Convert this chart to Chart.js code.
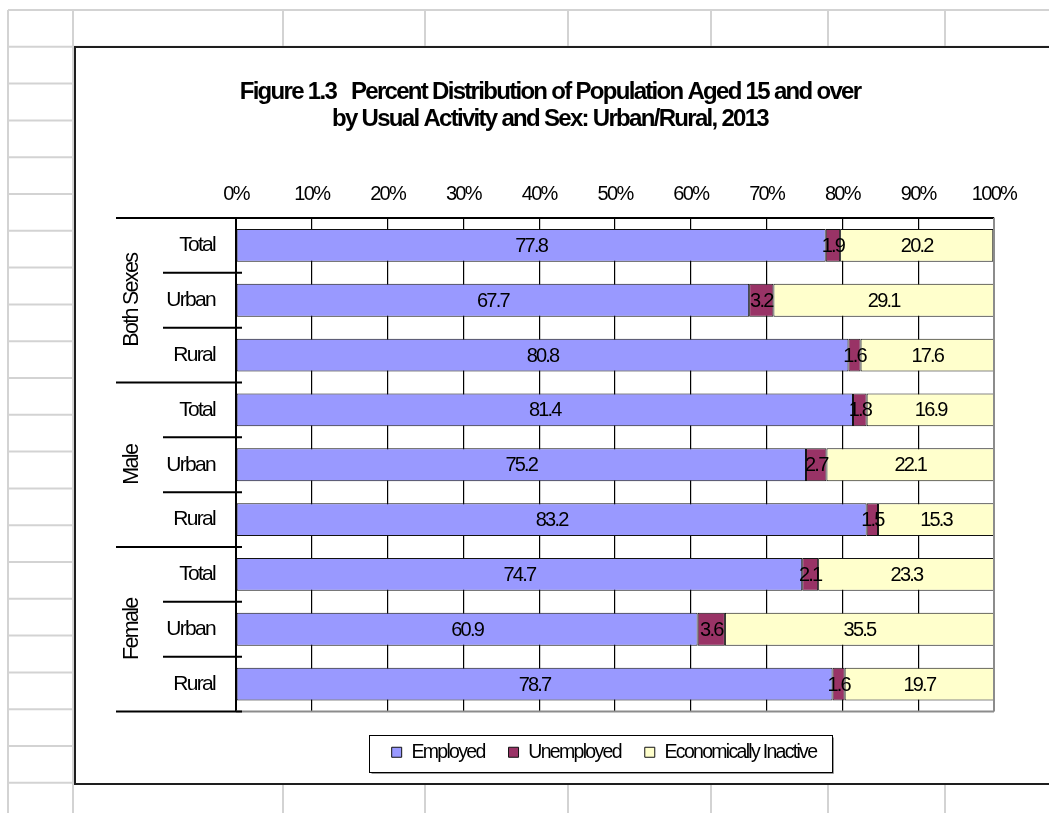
<!DOCTYPE html>
<html>
<head>
<meta charset="utf-8">
<title>Figure 1.3</title>
<script src="https://cdn.jsdelivr.net/npm/chart.js@4.4.1/dist/chart.umd.min.js"></script>
<style>
  html, body { margin: 0; padding: 0; background: #fff; overflow: hidden; }
  canvas { display: block; }
</style>
</head>
<body>
<canvas id="chart" width="1049" height="813"></canvas>
<script>
// Category structure: three groups, each split into Total / Urban / Rural
const groups = ['Both Sexes', 'Male', 'Female'];
const areas = ['Total', 'Urban', 'Rural'];

// Percent of population aged 15+, by usual activity
const employed   = [77.8, 67.7, 80.8, 81.4, 75.2, 83.2, 74.7, 60.9, 78.7];
const unemployed = [1.9, 3.2, 1.6, 1.8, 2.7, 1.5, 2.1, 3.6, 1.6];
const inactive   = [20.2, 29.1, 17.6, 16.9, 22.1, 15.3, 23.3, 35.5, 19.7];

const seriesNames = ['Employed', 'Unemployed', 'Economically Inactive'];
const percentTicks = [0, 10, 20, 30, 40, 50, 60, 70, 80, 90, 100];

const titleLines = [
  'Figure 1.3   Percent Distribution of Population Aged 15 and over',
  'by Usual Activity and Sex: Urban/Rural, 2013'
];

// Arial-metric face, tightened to a narrow look
const FONT = "'Liberation Sans', Arial, sans-serif";
const TIGHT = '-1.7px';
const labels = groups.flatMap(() => areas);

// Worksheet cell grid behind the chart object, plus the chart frame
const sheetCols = [8, 73, 283, 425, 568, 711, 828, 945];
const sheetPlugin = {
  id: 'sheet',
  beforeLayout(chart) { chart.ctx.letterSpacing = TIGHT; },
  beforeDraw(chart) {
    const ctx = chart.ctx, W = chart.width, H = chart.height;
    ctx.letterSpacing = TIGHT;
    ctx.save();
    ctx.fillStyle = '#ffffff';
    ctx.fillRect(0, 0, W, H);
    ctx.strokeStyle = '#d3d3d3';
    ctx.lineWidth = 2;
    ctx.beginPath();
    for (const x of sheetCols) { ctx.moveTo(x, 10); ctx.lineTo(x, H); }
    for (let k = 0; k <= 21; k++) { const y = 10 + k * 36.8; ctx.moveTo(8, y); ctx.lineTo(W, y); }
    ctx.stroke();
    ctx.fillStyle = '#ffffff';
    ctx.fillRect(75, 47, W, 737);
    ctx.strokeStyle = '#1e1e1e';
    ctx.lineWidth = 2;
    ctx.strokeRect(75, 47, W + 40, 737);
    ctx.restore();
  }
};

// Group separators, group titles and plot frame
const categoryPlugin = {
  id: 'categoryFrame',
  afterDraw(chart) {
    const ctx = chart.ctx, a = chart.chartArea, ys = chart.scales.y;
    const n = labels.length;
    ctx.save();
    ctx.strokeStyle = '#8c8c8c';
    ctx.lineWidth = 2;
    ctx.beginPath();
    ctx.moveTo(a.right, a.top); ctx.lineTo(a.right, a.bottom);
    ctx.moveTo(a.left, a.bottom); ctx.lineTo(a.right, a.bottom);
    ctx.stroke();
    ctx.strokeStyle = '#000';
    ctx.lineWidth = 2;
    ctx.beginPath();
    for (let i = 0; i <= n; i++) {
      let y;
      if (i === 0) y = a.top;
      else if (i === n) y = a.bottom;
      else y = (ys.getPixelForValue(i - 1) + ys.getPixelForValue(i)) / 2;
      const x0 = i % areas.length === 0 ? a.left - 120 : a.left - 73;
      ctx.moveTo(x0, y); ctx.lineTo(a.left + 6, y);
    }
    ctx.stroke();
    ctx.fillStyle = '#000';
    ctx.font = '21.5px ' + FONT;
    ctx.letterSpacing = TIGHT;
    ctx.textAlign = 'center';
    ctx.textBaseline = 'middle';
    groups.forEach((g, gi) => {
      const yTop = ys.getPixelForValue(gi * areas.length);
      const yBot = ys.getPixelForValue(gi * areas.length + areas.length - 1);
      const cy = (yTop + yBot) / 2;
      ctx.save();
      ctx.translate(a.left - 104, cy);
      ctx.rotate(-Math.PI / 2);
      ctx.fillText(g, 0, 0);
      ctx.restore();
    });
    ctx.restore();
  }
};

// Segment values printed in the middle of each segment
const valueLabelPlugin = {
  id: 'valueLabels',
  afterDatasetsDraw(chart) {
    const ctx = chart.ctx;
    ctx.save();
    ctx.fillStyle = '#000';
    ctx.font = '20px ' + FONT;
    ctx.letterSpacing = '-1.8px';
    ctx.textAlign = 'center';
    ctx.textBaseline = 'middle';
    chart.data.datasets.forEach((ds, di) => {
      const meta = chart.getDatasetMeta(di);
      meta.data.forEach((bar, i) => {
        const p = bar.getProps(['x', 'y', 'base'], true);
        ctx.fillText(ds.data[i].toFixed(1), (p.x + p.base) / 2, p.y + 1);
      });
    });
    ctx.restore();
  }
};

// Legend placement and its framed box
const LEGEND_PAD = 24;
const legendPlugin = {
  id: 'legendFrame',
  afterLayout(chart) {
    const lg = chart.legend;
    if (!lg) return;
    lg.left += 54; lg.right += 54;
    lg.top += 7; lg.bottom += 7;
  },
  afterDraw(chart) {
    const lg = chart.legend, ctx = chart.ctx;
    if (!lg || !lg.lineWidths) return;
    const lw = lg.lineWidths[0];
    const start = (lg.left + LEGEND_PAD + lg.right - lw) / 2;
    const end = start + lw - LEGEND_PAD;
    const x0 = Math.round(start - 23) + 0.5, x1 = Math.round(end + 16) + 0.5;
    const y0 = Math.round(lg.top + 16) + 0.5, h = 37;
    ctx.save();
    ctx.strokeStyle = '#9a9a9a';
    ctx.lineWidth = 1;
    ctx.beginPath();
    ctx.moveTo(x0 + 2, y0 + h + 1); ctx.lineTo(x1 + 1, y0 + h + 1); ctx.lineTo(x1 + 1, y0 + 2);
    ctx.stroke();
    ctx.strokeStyle = '#000';
    ctx.strokeRect(x0, y0, x1 - x0, h);
    ctx.restore();
  }
};

new Chart(document.getElementById('chart'), {
  type: 'bar',
  data: {
    labels: labels,
    datasets: [
      { label: seriesNames[0], data: employed,   backgroundColor: '#9999FF' },
      { label: seriesNames[1], data: unemployed, backgroundColor: '#993366' },
      { label: seriesNames[2], data: inactive,   backgroundColor: '#FFFFCC' }
    ].map(d => Object.assign(d, {
      borderColor: '#111',
      borderWidth: 1,
      borderSkipped: false,
      barPercentage: 0.6,
      categoryPercentage: 1
    }))
  },
  options: {
    indexAxis: 'y',
    responsive: false,
    animation: false,
    events: [],
    layout: { padding: { left: 106, right: 55, top: 0, bottom: 48 } },
    scales: {
      x: {
        position: 'top',
        stacked: true,
        min: 0,
        max: 100,
        afterFit: s => { s.height = 85; },
        afterBuildTicks: s => { s.ticks = percentTicks.map(v => ({ value: v })); },
        ticks: {
          color: '#000',
          font: { family: FONT, size: 20 },
          padding: 12,
          maxRotation: 0,
          callback: v => v + '%'
        },
        grid: {
          color: ctx => (ctx.tick && ctx.tick.value === 100) ? '#8c8c8c' : '#000',
          lineWidth: 1.2,
          drawTicks: false
        },
        border: { display: true, color: '#000', width: 2 }
      },
      y: {
        stacked: true,
        afterFit: s => { s.width = 130; },
        ticks: {
          color: '#000',
          font: { family: FONT, size: 21 },
          padding: 21
        },
        grid: { display: true, drawOnChartArea: false, drawTicks: false },
        border: { display: true, color: '#000', width: 2 }
      }
    },
    plugins: {
      title: {
        display: true,
        text: titleLines,
        color: '#000',
        font: { family: FONT, size: 24, weight: 'bold', lineHeight: 1.125 },
        padding: { top: 79, bottom: 0 }
      },
      legend: {
        display: true,
        position: 'bottom',
        labels: {
          color: '#000',
          font: { family: FONT, size: 19.5 },
          boxWidth: 10,
          boxHeight: 10,
          padding: LEGEND_PAD
        }
      },
      tooltip: { enabled: false }
    }
  },
  plugins: [sheetPlugin, categoryPlugin, valueLabelPlugin, legendPlugin]
});
</script>
</body>
</html>
